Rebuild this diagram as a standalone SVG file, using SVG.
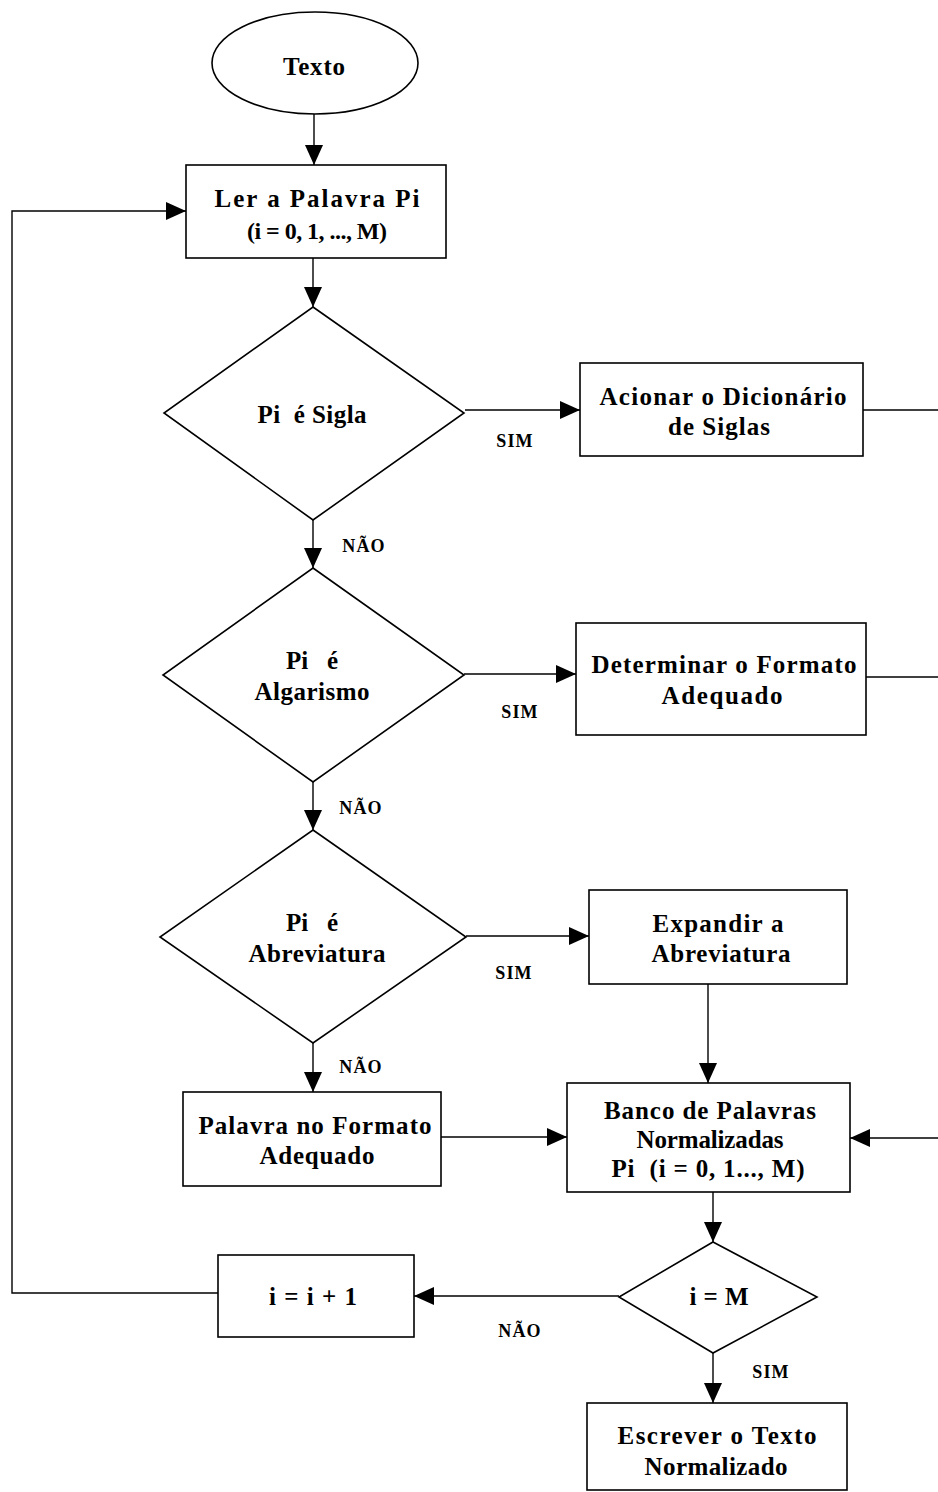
<svg xmlns="http://www.w3.org/2000/svg" width="938" height="1492" viewBox="0 0 938 1492">
  <style>
    .shape { fill: #fff; stroke: #000; stroke-width: 1.6; }
    .edge { fill: none; stroke: #000; stroke-width: 1.4; }
    .t { font-family: "Liberation Serif", "Times New Roman", serif; font-weight: bold; font-size: 25px; text-anchor: middle; fill: #000; white-space: pre; }
    .small { font-size: 24px; }
    .lbl { font-family: "Liberation Serif", "Times New Roman", serif; font-weight: bold; font-size: 18px; letter-spacing: 1.2px; text-anchor: middle; fill: #000; }
  </style>
  <defs>
    <marker id="arrow" markerUnits="userSpaceOnUse" markerWidth="20" markerHeight="18" viewBox="0 0 20 18" refX="20" refY="9" orient="auto">
      <path d="M0,0 L20,9 L0,18 Z" fill="#000"/>
    </marker>
  </defs>

  <rect width="938" height="1492" fill="#fff"/>

  <g id="connectors">
    <line class="edge" x1="314" y1="114" x2="314" y2="165" marker-end="url(#arrow)"/>
    <line class="edge" x1="313" y1="258" x2="313" y2="307" marker-end="url(#arrow)"/>
    <line class="edge" x1="465" y1="410" x2="580" y2="410" marker-end="url(#arrow)"/>
    <line class="edge" x1="863" y1="410" x2="938" y2="410"/>
    <line class="edge" x1="313" y1="520" x2="313" y2="568" marker-end="url(#arrow)"/>
    <line class="edge" x1="464" y1="674" x2="576" y2="674" marker-end="url(#arrow)"/>
    <line class="edge" x1="866" y1="677" x2="938" y2="677"/>
    <line class="edge" x1="313" y1="782" x2="313" y2="830" marker-end="url(#arrow)"/>
    <line class="edge" x1="466" y1="936" x2="589" y2="936" marker-end="url(#arrow)"/>
    <line class="edge" x1="313" y1="1043" x2="313" y2="1092" marker-end="url(#arrow)"/>
    <line class="edge" x1="708" y1="984" x2="708" y2="1083" marker-end="url(#arrow)"/>
    <line class="edge" x1="441" y1="1137" x2="567" y2="1137" marker-end="url(#arrow)"/>
    <line class="edge" x1="938" y1="1138" x2="850" y2="1138" marker-end="url(#arrow)"/>
    <line class="edge" x1="713" y1="1192" x2="713" y2="1242" marker-end="url(#arrow)"/>
    <line class="edge" x1="619" y1="1296" x2="414" y2="1296" marker-end="url(#arrow)"/>
    <line class="edge" x1="713" y1="1353" x2="713" y2="1403" marker-end="url(#arrow)"/>
    <polyline class="edge" points="218,1293 12,1293 12,211 186,211" marker-end="url(#arrow)"/>
    <text class="lbl" x="515" y="447">SIM</text>
    <text class="lbl" x="364" y="552">NÃO</text>
    <text class="lbl" x="520" y="718">SIM</text>
    <text class="lbl" x="361" y="814">NÃO</text>
    <text class="lbl" x="514" y="979">SIM</text>
    <text class="lbl" x="361" y="1073">NÃO</text>
    <text class="lbl" x="520" y="1337">NÃO</text>
    <text class="lbl" x="771" y="1378">SIM</text>
  </g>

  <g id="start">
    <ellipse class="shape" cx="315" cy="63" rx="103" ry="51"/>
    <text class="t" x="314" y="75" textLength="62" lengthAdjust="spacing">Texto</text>
  </g>

  <g id="read-word">
    <rect class="shape" x="186" y="165" width="260" height="93"/>
    <text class="t" x="317" y="207" textLength="205" lengthAdjust="spacing">Ler a Palavra Pi</text>
    <text class="t small" x="317" y="239" textLength="140" lengthAdjust="spacing">(i = 0, 1, ..., M)</text>
  </g>

  <g id="is-acronym">
    <polygon class="shape" points="313,307 464,413 313,520 164,413"/>
    <text class="t" x="312" y="423" textLength="109" lengthAdjust="spacing">Pi  é Sigla</text>
  </g>

  <g id="acronym-dictionary">
    <rect class="shape" x="580" y="363" width="283" height="93"/>
    <text class="t" x="723" y="405" textLength="247" lengthAdjust="spacing">Acionar o Dicionário</text>
    <text class="t" x="719" y="435" textLength="102" lengthAdjust="spacing">de Siglas</text>
  </g>

  <g id="is-number">
    <polygon class="shape" points="313,568 464,675 313,782 163,675"/>
    <text class="t" x="312" y="669">Pi   é</text>
    <text class="t" x="312" y="700" textLength="115" lengthAdjust="spacing">Algarismo</text>
  </g>

  <g id="number-format">
    <rect class="shape" x="576" y="623" width="290" height="112"/>
    <text class="t" x="724" y="673" textLength="265" lengthAdjust="spacing">Determinar o Formato</text>
    <text class="t" x="722" y="704" textLength="121" lengthAdjust="spacing">Adequado</text>
  </g>

  <g id="is-abbreviation">
    <polygon class="shape" points="313,830 466,937 313,1043 160,937"/>
    <text class="t" x="312" y="931">Pi   é</text>
    <text class="t" x="317" y="962" textLength="137" lengthAdjust="spacing">Abreviatura</text>
  </g>

  <g id="expand-abbreviation">
    <rect class="shape" x="589" y="890" width="258" height="94"/>
    <text class="t" x="718" y="932" textLength="131" lengthAdjust="spacing">Expandir a</text>
    <text class="t" x="721" y="962" textLength="139" lengthAdjust="spacing">Abreviatura</text>
  </g>

  <g id="word-as-is">
    <rect class="shape" x="183" y="1092" width="258" height="94"/>
    <text class="t" x="315" y="1134" textLength="233" lengthAdjust="spacing">Palavra no Formato</text>
    <text class="t" x="317" y="1164" textLength="115" lengthAdjust="spacing">Adequado</text>
  </g>

  <g id="normalized-bank">
    <rect class="shape" x="567" y="1083" width="283" height="109"/>
    <text class="t" x="710" y="1119" textLength="212" lengthAdjust="spacing">Banco de Palavras</text>
    <text class="t" x="710" y="1148" textLength="147" lengthAdjust="spacing">Normalizadas</text>
    <text class="t" x="708" y="1177" textLength="193" lengthAdjust="spacing">Pi  (i = 0, 1..., M)</text>
  </g>

  <g id="last-word">
    <polygon class="shape" points="713,1242 817,1297 713,1353 619,1297"/>
    <text class="t" x="719" y="1305" textLength="59" lengthAdjust="spacing">i = M</text>
  </g>

  <g id="increment">
    <rect class="shape" x="218" y="1255" width="196" height="82"/>
    <text class="t" x="313" y="1305" textLength="88" lengthAdjust="spacing">i = i + 1</text>
  </g>

  <g id="write-text">
    <rect class="shape" x="587" y="1403" width="260" height="87"/>
    <text class="t" x="717" y="1444" textLength="199" lengthAdjust="spacing">Escrever o Texto</text>
    <text class="t" x="716" y="1475" textLength="143" lengthAdjust="spacing">Normalizado</text>
  </g>
</svg>
